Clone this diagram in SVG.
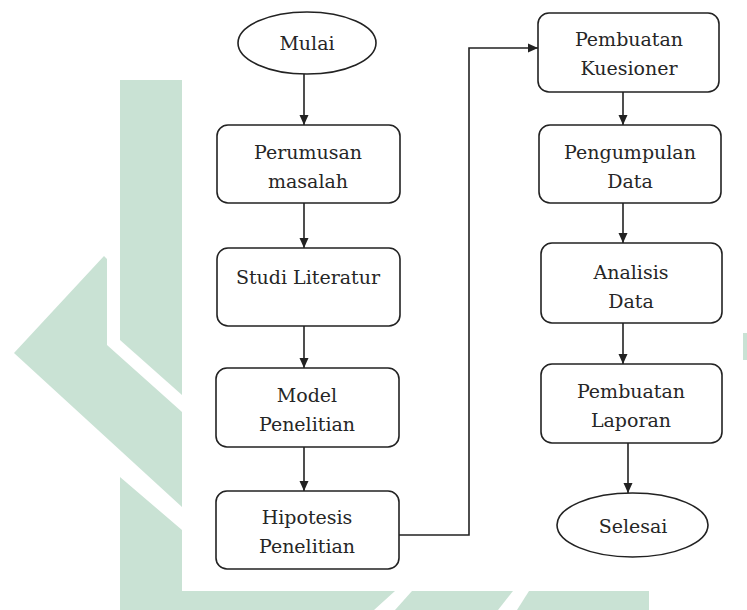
<svg xmlns="http://www.w3.org/2000/svg" width="747" height="610" viewBox="0 0 747 610">
<defs>
<style>
.wm{fill:#c9e2d4;stroke:none}
.box{fill:#ffffff;stroke:#222222;stroke-width:1.6}
.term{fill:#ffffff;stroke:#222222;stroke-width:1.6}
.lbl{font-family:'DejaVu Serif','Liberation Serif',serif;font-size:19px;fill:#262626;text-anchor:middle}
.edge{fill:none;stroke:#222222;stroke-width:1.6}
</style>
<marker id="ah" viewBox="0 0 10 10" refX="10" refY="5" markerWidth="10" markerHeight="10" markerUnits="userSpaceOnUse" orient="auto">
<path d="M0,0.5 L10,5 L0,9.5 z" fill="#222222"/>
</marker>
</defs>
<rect x="0" y="0" width="747" height="610" fill="#ffffff"/>
<g id="watermark">
<polygon class="wm" points="120,80 182,80 182,395 120,340"/>
<polygon class="wm" points="104,256 107,259 107,345 182,412 182,507 14,353"/>
<polygon class="wm" points="120,477 182,530 182,591 395,591 374,610 120,610"/>
<polygon class="wm" points="412,591 513,591 498,610 395,610"/>
<polygon class="wm" points="529,591 649,591 649,610 517,610"/>
<rect class="wm" x="743" y="333" width="4" height="27"/>
</g>
<g id="connectors">
<line class="edge" x1="304" y1="74" x2="304" y2="125" marker-end="url(#ah)"/>
<line class="edge" x1="304" y1="203" x2="304" y2="248" marker-end="url(#ah)"/>
<line class="edge" x1="304" y1="326" x2="304" y2="368" marker-end="url(#ah)"/>
<line class="edge" x1="304" y1="447" x2="304" y2="491" marker-end="url(#ah)"/>
<polyline class="edge" points="399,535 469,535 469,48 538,48" marker-end="url(#ah)"/>
<line class="edge" x1="623" y1="92" x2="623" y2="125" marker-end="url(#ah)"/>
<line class="edge" x1="623" y1="203" x2="623" y2="243" marker-end="url(#ah)"/>
<line class="edge" x1="623" y1="323" x2="623" y2="364" marker-end="url(#ah)"/>
<line class="edge" x1="628" y1="443" x2="628" y2="493" marker-end="url(#ah)"/>
</g>
<g id="mulai">
<ellipse class="term" cx="307" cy="43" rx="69" ry="31"/>
<text class="lbl" x="307" y="50">Mulai</text>
</g>
<g id="perumusan">
<rect class="box" x="217" y="125" width="183" height="78" rx="11"/>
<text class="lbl" x="308" y="159">Perumusan</text>
<text class="lbl" x="308" y="188">masalah</text>
</g>
<g id="studi">
<rect class="box" x="217" y="248" width="183" height="78" rx="11"/>
<text class="lbl" x="308" y="284">Studi Literatur</text>
</g>
<g id="model">
<rect class="box" x="216" y="368" width="183" height="79" rx="11"/>
<text class="lbl" x="307" y="402">Model</text>
<text class="lbl" x="307" y="431">Penelitian</text>
</g>
<g id="hipotesis">
<rect class="box" x="216" y="491" width="183" height="78" rx="11"/>
<text class="lbl" x="307" y="524">Hipotesis</text>
<text class="lbl" x="307" y="553">Penelitian</text>
</g>
<g id="kuesioner">
<rect class="box" x="538" y="13" width="181" height="79" rx="11"/>
<text class="lbl" x="629" y="46">Pembuatan</text>
<text class="lbl" x="629" y="75">Kuesioner</text>
</g>
<g id="pengumpulan">
<rect class="box" x="539" y="125" width="182" height="78" rx="11"/>
<text class="lbl" x="630" y="159">Pengumpulan</text>
<text class="lbl" x="630" y="188">Data</text>
</g>
<g id="analisis">
<rect class="box" x="541" y="243" width="181" height="80" rx="11"/>
<text class="lbl" x="631" y="279">Analisis</text>
<text class="lbl" x="631" y="308">Data</text>
</g>
<g id="laporan">
<rect class="box" x="541" y="364" width="181" height="79" rx="11"/>
<text class="lbl" x="631" y="398">Pembuatan</text>
<text class="lbl" x="631" y="427">Laporan</text>
</g>
<g id="selesai">
<ellipse class="term" cx="632.5" cy="525" rx="75.5" ry="32"/>
<text class="lbl" x="633" y="533">Selesai</text>
</g>
</svg>
